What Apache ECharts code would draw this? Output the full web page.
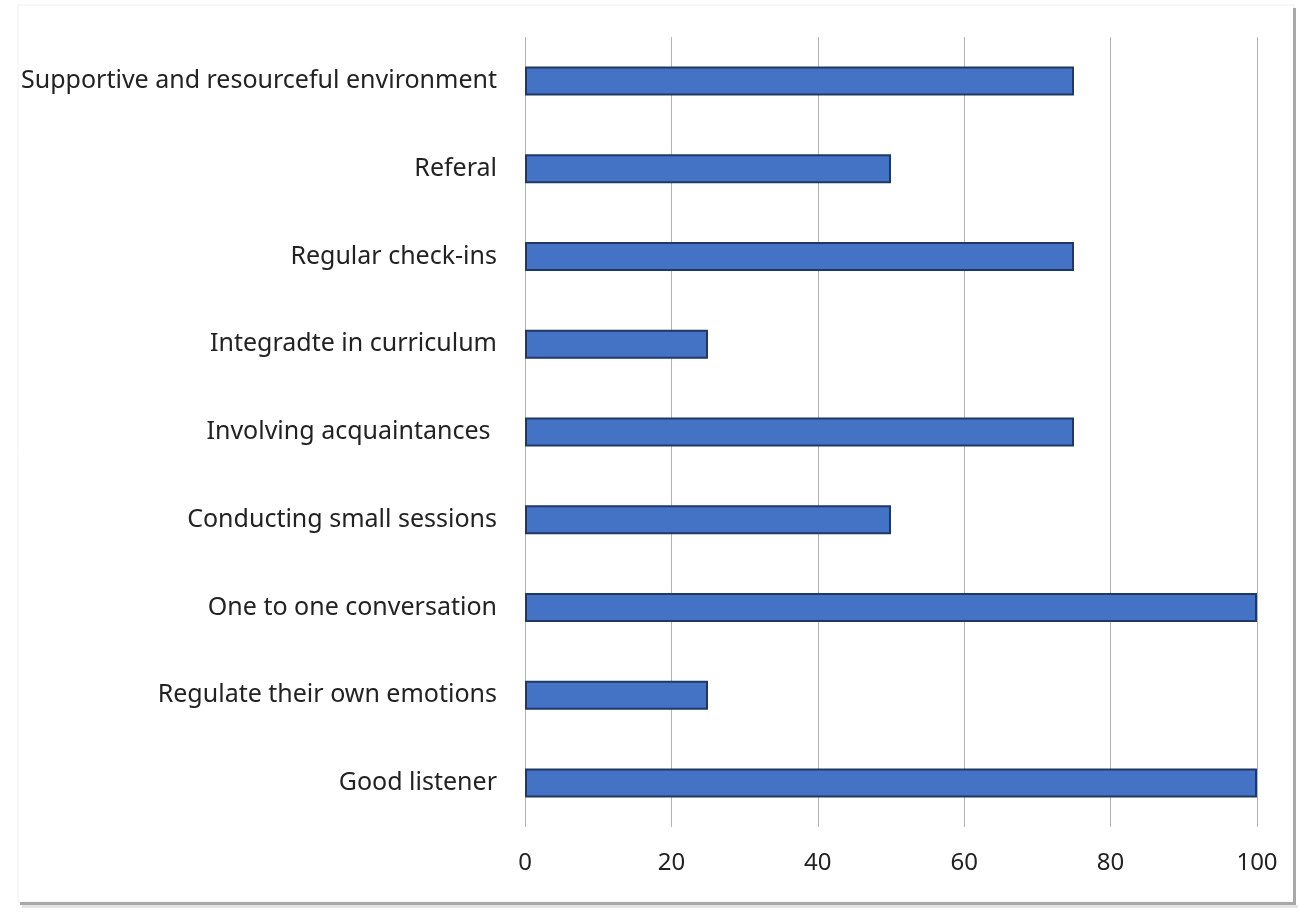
<!DOCTYPE html>
<html>
<head>
<meta charset="utf-8">
<script src="https://cdn.jsdelivr.net/npm/echarts@6/dist/echarts.min.js"></script>
<style>
html,body{margin:0;padding:0;background:#fff;}
#c{width:1300px;height:917px;}
</style>
</head>
<body>
<div id="c"></div>
<script>
const categories = [
  "Supportive and resourceful environment",
  "Referal",
  "Regular check-ins",
  "Integradte in curriculum",
  "Involving acquaintances ",
  "Conducting small sessions",
  "One to one conversation",
  "Regulate their own emotions",
  "Good listener"
];
const values = [75, 50, 75, 25, 75, 50, 100, 25, 100];
const xTicks = { min: 0, max: 100, interval: 20 };

const chart = echarts.init(document.getElementById('c'), null, {renderer: 'canvas'});
chart.setOption({
  animation: false,
  backgroundColor: '#fff',
  graphic: [
    {type: 'rect', shape: {x: 18, y: 5, width: 1276, height: 897}, style: {fill: 'none', stroke: '#f0f0f0', lineWidth: 1}, z: -10},
    {type: 'rect', shape: {x: 1293, y: 8, width: 3, height: 897}, style: {fill: '#a8a8a8'}, z: -5},
    {type: 'rect', shape: {x: 20, y: 902, width: 1276, height: 3}, style: {fill: '#a8a8a8'}, z: -5},
    {type: 'rect', shape: {x: 22, y: 905, width: 1276, height: 3}, style: {fill: '#e4e4e4'}, z: -5}
  ],
  grid: {left: 525, right: 43, top: 37, bottom: 90, containLabel: false},
  xAxis: {
    type: 'value', min: xTicks.min, max: xTicks.max, interval: xTicks.interval,
    axisLine: {show: false}, axisTick: {show: false},
    splitLine: {show: true, lineStyle: {color: '#b4b4b4', width: 1}},
    axisLabel: {color: '#222', fontSize: 24, fontFamily: 'Noto Sans', margin: 24}
  },
  yAxis: {
    type: 'category', data: categories, inverse: true,
    axisLine: {show: false}, axisTick: {show: false},
    axisLabel: {color: '#222', fontSize: 25, fontFamily: 'Noto Sans', margin: 28, padding: [5, 0, 0, 0]}
  },
  series: [{
    type: 'bar', data: values, barWidth: 29,
    itemStyle: {color: '#4472C4', borderColor: '#1F3864', borderWidth: 2}
  }]
});
</script>
</body>
</html>
